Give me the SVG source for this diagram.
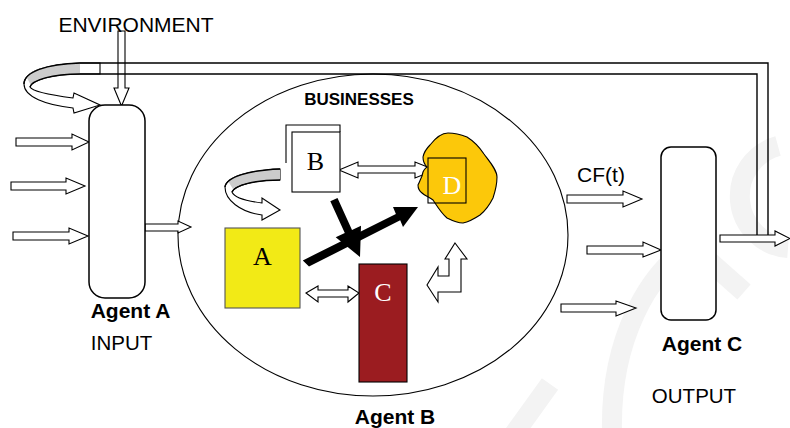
<svg xmlns="http://www.w3.org/2000/svg" width="790" height="428" viewBox="0 0 790 428">
  <style>
    .blk { fill: #ffffff; stroke: #000000; stroke-width: 1.1; stroke-linejoin: miter; }
    .line { fill: none; stroke: #000000; stroke-width: 1.4; }
    .sans { font-family: "Liberation Sans", Arial, sans-serif; fill: #000000; }
    .bold { font-weight: bold; }
    .serif { font-family: "Liberation Serif", "Times New Roman", serif; }
    .mark { fill: none; stroke: #f3f3f3; stroke-width: 20; }
    .thick { fill: #000000; stroke: none; }
  </style>

  <rect width="790" height="428" fill="#ffffff"/>

  <!-- faint background logo -->
  <g id="backdrop">
    <path class="mark" d="M612,432 C610,340 648,272 692,246 L744,292"/>
    <path class="mark" d="M514,434 L550,384"/>
    <path class="mark" d="M778,146 A52,52 0 0 0 788,248"/>
  </g>

  <!-- businesses ellipse -->
  <g id="businesses">
    <ellipse cx="373" cy="235" rx="195" ry="161" fill="none" stroke="#000" stroke-width="1.1"/>
    <text class="sans bold" x="359" y="105" font-size="17" text-anchor="middle">BUSINESSES</text>
  </g>

  <g id="connectors">
    <!-- environment input arrow -->
    <polygon class="blk" points="118,31 125,31 125,88 129,88 121.5,106 114,88 118,88"/>
    <!-- feedback pipe -->
    <path class="line" d="M100,63 H768 V235"/>
    <path class="line" d="M100,74 H757 V235"/>
    <!-- feedback curl into Agent A -->
    <path class="blk" d="M100,63 L80,63 C46,64 24,72 24,84 C24,97 46,105 73,108 L74,113 L100,105 L74,93 L73,98 C50,95 32,91 30,87 C32,80 52,74 80,74 L100,74 Z"/>
    <path d="M80,63.6 C52,64.2 32,69 26.5,77 L30.5,84.5 C35,79 54,74.5 80,73.4 Z" fill="#cccccc"/>
    <path class="line" stroke-width="1.1" d="M100,63 L80,63 C46,64 24,72 24,84 M30,87 C32,80 52,74 80,74 L100,74"/>

    <!-- inputs to Agent A -->
    <polygon class="blk" points="16,138 72,138 72,134 89,142 72,150 72,146 16,146"/>
    <polygon class="blk" points="11,182 66,182 66,178 85,186 66,194 66,190 11,190"/>
    <polygon class="blk" points="13,232 69,232 69,228 88,236 69,244 69,240 13,240"/>
    <!-- Agent A to businesses -->
    <polygon class="blk" points="145,224 178,224 178,221 191,227 178,233 178,231 145,231"/>

    <!-- businesses to Agent C -->
    <polygon class="blk" points="567,195 623,195 623,191 642,199 623,207 623,203 567,203"/>
    <polygon class="blk" points="587,246 643,246 643,242 661,250 643,257 643,254 587,254"/>
    <polygon class="blk" points="561,304 616,304 616,301 636,308 616,316 616,312 561,312"/>
    <!-- Agent C output -->
    <polygon class="blk" points="720,235 775,235 775,231 790,238.5 775,246 775,242 720,242"/>

    <!-- B to D two-way arrow -->
    <polygon class="blk" points="339,170 358,162 358,166 415,166 415,162 435,170 415,178 415,173 358,173 358,178"/>
    <!-- A to C two-way arrow -->
    <polygon class="blk" points="306,293 318,286 318,290 348,290 348,286 359,293 348,302 348,297 318,297 318,302"/>
    <!-- curl into A -->
    <path class="blk" d="M280,169 C250,170 226,177 225,187 C225,200 240,212 262,215 L262,220 L280,210 L262,198 L262,203 C246,201 234,197 232,192 C235,185 255,180 280,180 Z"/>
    <path d="M280,169.6 C255,170.2 236,174 228,181 L233,189 C240,183 258,180.4 280,179.4 Z" fill="#cccccc"/>
    <path class="line" stroke-width="1.1" d="M280,169 C250,170 226,177 225,187 M232,192 C235,185 255,180 280,180"/>
    <!-- bent two-way arrow -->
    <polygon class="blk" points="455,243 467,259 461,259 461,292 438,292 438,302 427,285 438,267 438,276 449,276 449,259 445,259"/>
  </g>

  <!-- nodes -->
  <g id="agent-a">
    <rect x="89" y="105" width="56" height="193" rx="16" ry="16" fill="#ffffff" stroke="#000" stroke-width="1.5"/>
    <text class="sans bold" x="130.5" y="318" font-size="21" text-anchor="middle">Agent A</text>
    <text class="sans" x="121.5" y="350" font-size="20.5" text-anchor="middle">INPUT</text>
  </g>

  <g id="environment">
    <text class="sans" x="136" y="32" font-size="21" text-anchor="middle">ENVIRONMENT</text>
  </g>

  <g id="node-b">
    <polyline points="286,163 286,125 340,125 340,132" fill="none" stroke="#000" stroke-width="1.1"/>
    <rect x="292" y="132" width="48" height="60" fill="#ffffff" stroke="#000" stroke-width="1.1"/>
    <text class="serif" x="315.5" y="170" font-size="26" text-anchor="middle">B</text>
  </g>

  <g id="node-d">
    <path d="M430,145 C437,136 442,133 448,133 C456,133 462,135 467,137 C475,142 480,148 484,154 C490,162 497,170 497,177 C497,186 495,192 493,198 C489,206 485,211 480,215 C474,219 468,222 463,223 C457,223 451,220 447,218 C441,213 437,206 433,200 C429,197 425,196 422,193 C418,190 418,187 418,185 C420,181 421,178 422,176 L423,172 C424,169 426,168 427,167 C424,164 423,160 423,157 C424,152 427,148 430,145 Z" fill="#fcc80a" stroke="#000" stroke-width="1.1"/>
    <rect x="428" y="158" width="38" height="45" fill="none" stroke="#000" stroke-width="1.1"/>
    <text class="serif" x="452" y="194" font-size="26" text-anchor="middle" fill="#ffffff">D</text>
  </g>

  <g id="node-a">
    <rect x="225" y="228" width="75" height="80" fill="#f2ea16" stroke="#555" stroke-width="1.1"/>
    <text class="serif" x="262.5" y="265" font-size="26" text-anchor="middle">A</text>
  </g>

  <g id="node-c">
    <rect x="359" y="264" width="48" height="118" fill="#9b1c20" stroke="#000" stroke-width="1.1"/>
    <text class="serif" x="383" y="301" font-size="26" text-anchor="middle" fill="#ffffff">C</text>
  </g>

  <!-- black influence arrows -->
  <g id="influence">
    <polygon class="thick" points="302.8,260.4 395.9,213.9 393,207 418,207 403,227 400.2,220.2 309,266.6"/>
    <polygon class="thick" points="330.3,201.3 337.5,198 352,229.9 361,225.7 360,257 335.7,237.3 344.8,233.1"/>
  </g>

  <g id="agent-b-label">
    <text class="sans bold" x="395" y="424" font-size="21" text-anchor="middle">Agent B</text>
  </g>

  <g id="agent-c">
    <rect x="661" y="147" width="55" height="173" rx="10" ry="10" fill="#ffffff" stroke="#000" stroke-width="1.5"/>
    <text class="sans" x="601" y="182" font-size="21" text-anchor="middle">CF(t)</text>
    <text class="sans bold" x="702" y="351" font-size="21" text-anchor="middle">Agent C</text>
    <text class="sans" x="694" y="403" font-size="20.5" text-anchor="middle">OUTPUT</text>
  </g>
</svg>
